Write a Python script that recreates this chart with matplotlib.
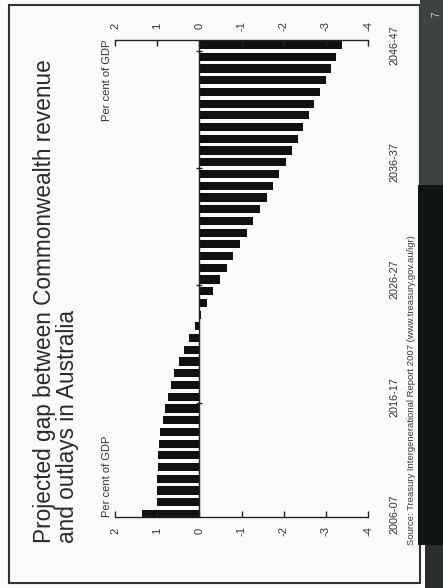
import numpy as np
import matplotlib
matplotlib.use('Agg')
import matplotlib.pyplot as plt
from matplotlib.patches import Rectangle

plt.rcParams['font.family'] = ['Liberation Sans', 'DejaVu Sans']

# data: gap between revenue and outlays, per cent of GDP, 2006-07 .. 2046-47
years = ['{}-{:02d}'.format(y, (y + 1) % 100) for y in range(2006, 2047)]
gap = [1.36, 1.0, 1.0, 1.0, 0.98, 0.97, 0.95, 0.93, 0.87, 0.82,
       0.75, 0.68, 0.6, 0.49, 0.37, 0.25, 0.1, -0.05, -0.18, -0.33,
       -0.5, -0.65, -0.81, -0.97, -1.13, -1.27, -1.44, -1.6, -1.74, -1.88,
       -2.05, -2.2, -2.33, -2.47, -2.6, -2.73, -2.87, -3.0, -3.13, -3.25,
       -3.38]
value_ticks = [2, 1, 0, -1, -2, -3, -4]
value_labels = ['2', '1', '0', '-1', '-2', '-3', '-4']
shown_years = ['2006-07', '2016-17', '2026-27', '2036-37', '2046-47']

title = 'Projected gap between Commonwealth revenue\nand outlays in Australia'
source = 'Source: Treasury Intergenerational Report 2007 (www.treasury.gov.au/igr)'

W, H = 443, 588
txt = '#333333'

fig = plt.figure(figsize=(W / 100, H / 100), dpi=100)
fig.patch.set_facecolor('#fbfbfb')

# the slide is scanned sideways, so the chart is drawn rotated
ax = fig.add_axes([115 / W, 71 / H, 253 / W, 477 / H])
ax.set_facecolor('none')
idx = np.arange(len(years))
ax.barh(idx, gap, height=0.7, color='#111111')
ax.set_xlim(2, -4)
ax.set_ylim(-0.26, 40.43)
ax.axvline(0, color='#222222', lw=1)
# small category ticks on the zero line
ax.plot(np.zeros(4), idx[9:40:10] + 0.5, ls='none', marker='_', ms=5, mew=1, color='#222222')

for s in ['left', 'right']:
    ax.spines[s].set_visible(False)
for s in ['top', 'bottom']:
    ax.spines[s].set_color('#222222')
    ax.spines[s].set_linewidth(1)

ax.set_xticks(value_ticks)
ax.set_xticklabels(value_labels)
ax.tick_params(axis='x', top=True, bottom=True, labeltop=True, labelbottom=True,
               direction='in', length=4, width=1, color='#222222',
               labelsize=8, labelcolor=txt, labelrotation=90, pad=10)
for t in ax.xaxis.get_major_ticks():
    t.label1.set_va('center')
    t.label2.set_va('center')

ax.set_yticks([years.index(y) for y in shown_years])
ax.set_yticklabels(shown_years)
ax.tick_params(axis='y', left=False, right=False, labelleft=False, labelright=True,
               labelsize=7.8, labelcolor=txt, labelrotation=90, pad=12)
for t in ax.yaxis.get_major_ticks():
    t.label2.set_va('center')

ax.text(-0.032, 0.0, 'Per cent of GDP', rotation=90, ha='center', va='bottom',
        fontsize=8, color=txt, transform=ax.transAxes)
ax.text(-0.032, 1.0, 'Per cent of GDP', rotation=90, ha='center', va='top',
        fontsize=8, color=txt, transform=ax.transAxes)

fig.text(56 / W, 1 - 543 / H, title, rotation=90, ha='center', va='bottom',
         multialignment='left', linespacing=1.0, fontsize=16.3, color='#2a2a2a')
fig.text(411 / W, 1 - 545 / H, source, rotation=90, ha='center', va='bottom',
         fontsize=6.8, color='#3a3a3a')

# slide frame and the dark scan margin
fig.patches.append(Rectangle((9 / W, 5 / H), 411 / W, 578 / H, transform=fig.transFigure,
                             fill=False, ec='#333333', lw=1.5))
fig.patches.append(Rectangle((420 / W, 1 - 185 / H), 23 / W, 185 / H, transform=fig.transFigure,
                             color='#3d4242', lw=0))
fig.patches.append(Rectangle((418 / W, 1 - 545 / H), 25 / W, 360 / H, transform=fig.transFigure,
                             color='#111515', lw=0))
fig.patches.append(Rectangle((425 / W, 0), 18 / W, 43 / H, transform=fig.transFigure,
                             color='#2a2e2e', lw=0))
fig.text(436 / W, 1 - 14 / H, '7', rotation=90, ha='center', va='center',
         fontsize=7, color='#dddddd')

fig.savefig('out.png', dpi=100, facecolor=fig.get_facecolor())
